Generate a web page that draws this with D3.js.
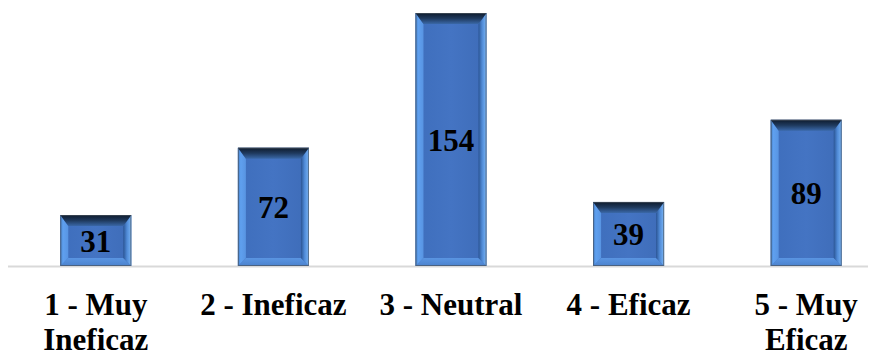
<!DOCTYPE html>
<html>
<head>
<meta charset="utf-8">
<script src="https://cdn.jsdelivr.net/npm/d3@7"></script>
<style>
  html, body { margin: 0; padding: 0; background: #fff; }
  svg { display: block; }
  text { font-family: "Liberation Serif", "Times New Roman", serif; font-weight: bold; fill: #000; }
</style>
</head>
<body>
<svg id="chart" width="881" height="356"></svg>
<script>
// Survey responses per effectiveness rating
const categories = [["1 - Muy", "Ineficaz"], ["2 - Ineficaz"], ["3 - Neutral"], ["4 - Eficaz"], ["5 - Muy", "Eficaz"]];
const values = [31, 72, 154, 39, 89];

const baseY = 266, topY = 13;
const svg = d3.select("#chart");

const x = d3.scaleBand()
  .domain(d3.range(categories.length))
  .range([7, 895])
  .paddingInner(0.6)
  .paddingOuter(0.3);

const y = d3.scaleLinear().domain([0, 154]).range([baseY, topY]);

// Gradients for the bevelled bar faces
const defs = svg.append("defs");
function grad(id, x1, y1, x2, y2, stops) {
  const g = defs.append("linearGradient").attr("id", id)
    .attr("x1", x1).attr("y1", y1).attr("x2", x2).attr("y2", y2);
  stops.forEach(([o, c]) => g.append("stop").attr("offset", o).attr("stop-color", c));
}
grad("bevTop", 0, 0, 0, 1, [[0, "#0e1b2d"], [0.5, "#1f3a5e"], [1, "#3a68a8"]]);
grad("bevLeft", 0, 0, 1, 0, [[0, "#4480cc"], [0.35, "#5fa0ef"], [1, "#5894e2"]]);
grad("bevRight", 0, 0, 1, 0, [[0, "#2b5594"], [0.45, "#4f8ad6"], [1, "#7ab6f7"]]);
grad("bevBottom", 0, 0, 0, 1, [[0, "#5a95e2"], [1, "#4b82ce"]]);
grad("face", 0, 0, 1, 0, [[0, "#3e6ebc"], [0.5, "#4474c3"], [1, "#3e6cb8"]]);

// Baseline
svg.append("line")
  .attr("x1", 8).attr("x2", 868)
  .attr("y1", baseY + 0.5).attr("y2", baseY + 0.5)
  .attr("stroke", "#d9d9d9").attr("stroke-width", 2);

const bw = x.bandwidth();
const bars = svg.selectAll("g.bar").data(values).join("g").attr("class", "bar");

bars.each(function(v, i) {
  const g = d3.select(this);
  const x0 = x(i), x1 = x0 + bw;
  const y0 = y(v), y1 = baseY;
  const bt = 11, bs = 8, bb = 8;
  const pts = (a) => a.map(p => p.join(",")).join(" ");
  g.append("rect").attr("x", x0).attr("y", y0).attr("width", bw).attr("height", y1 - y0)
    .attr("fill", "url(#face)");
  g.append("polygon").attr("points", pts([[x0, y1], [x0 + bs, y1 - bb], [x1 - bs, y1 - bb], [x1, y1]]))
    .attr("fill", "url(#bevBottom)");
  g.append("polygon").attr("points", pts([[x0, y0], [x0 + bs, y0 + bt], [x0 + bs, y1 - bb], [x0, y1]]))
    .attr("fill", "url(#bevLeft)");
  g.append("polygon").attr("points", pts([[x1, y0], [x1 - bs, y0 + bt], [x1 - bs, y1 - bb], [x1, y1]]))
    .attr("fill", "url(#bevRight)");
  g.append("polygon").attr("points", pts([[x0, y0], [x1, y0], [x1 - bs, y0 + bt], [x0 + bs, y0 + bt]]))
    .attr("fill", "url(#bevTop)");
  g.append("rect").attr("x", x0 + 0.5).attr("y", y0 + 0.5).attr("width", bw - 1).attr("height", y1 - y0 - 1)
    .attr("fill", "none").attr("stroke", "#4a5460").attr("stroke-width", 1).attr("stroke-opacity", 0.7);
  g.append("text")
    .attr("x", x0 + bw / 2).attr("y", (y0 + y1) / 2 + 4)
    .attr("text-anchor", "middle").attr("dominant-baseline", "middle")
    .style("font-size", "31px")
    .text(v);
});

// Category labels
svg.selectAll("text.cat").data(categories).join("text")
  .attr("class", "cat")
  .attr("text-anchor", "middle")
  .style("font-size", "31px")
  .attr("transform", (d, i) => `translate(${x(i) + bw / 2},315)`)
  .each(function(lines) {
    d3.select(this).selectAll("tspan").data(lines).join("tspan")
      .attr("x", 0).attr("y", (d, j) => j * 35)
      .text(d => d);
  });
</script>
</body>
</html>
